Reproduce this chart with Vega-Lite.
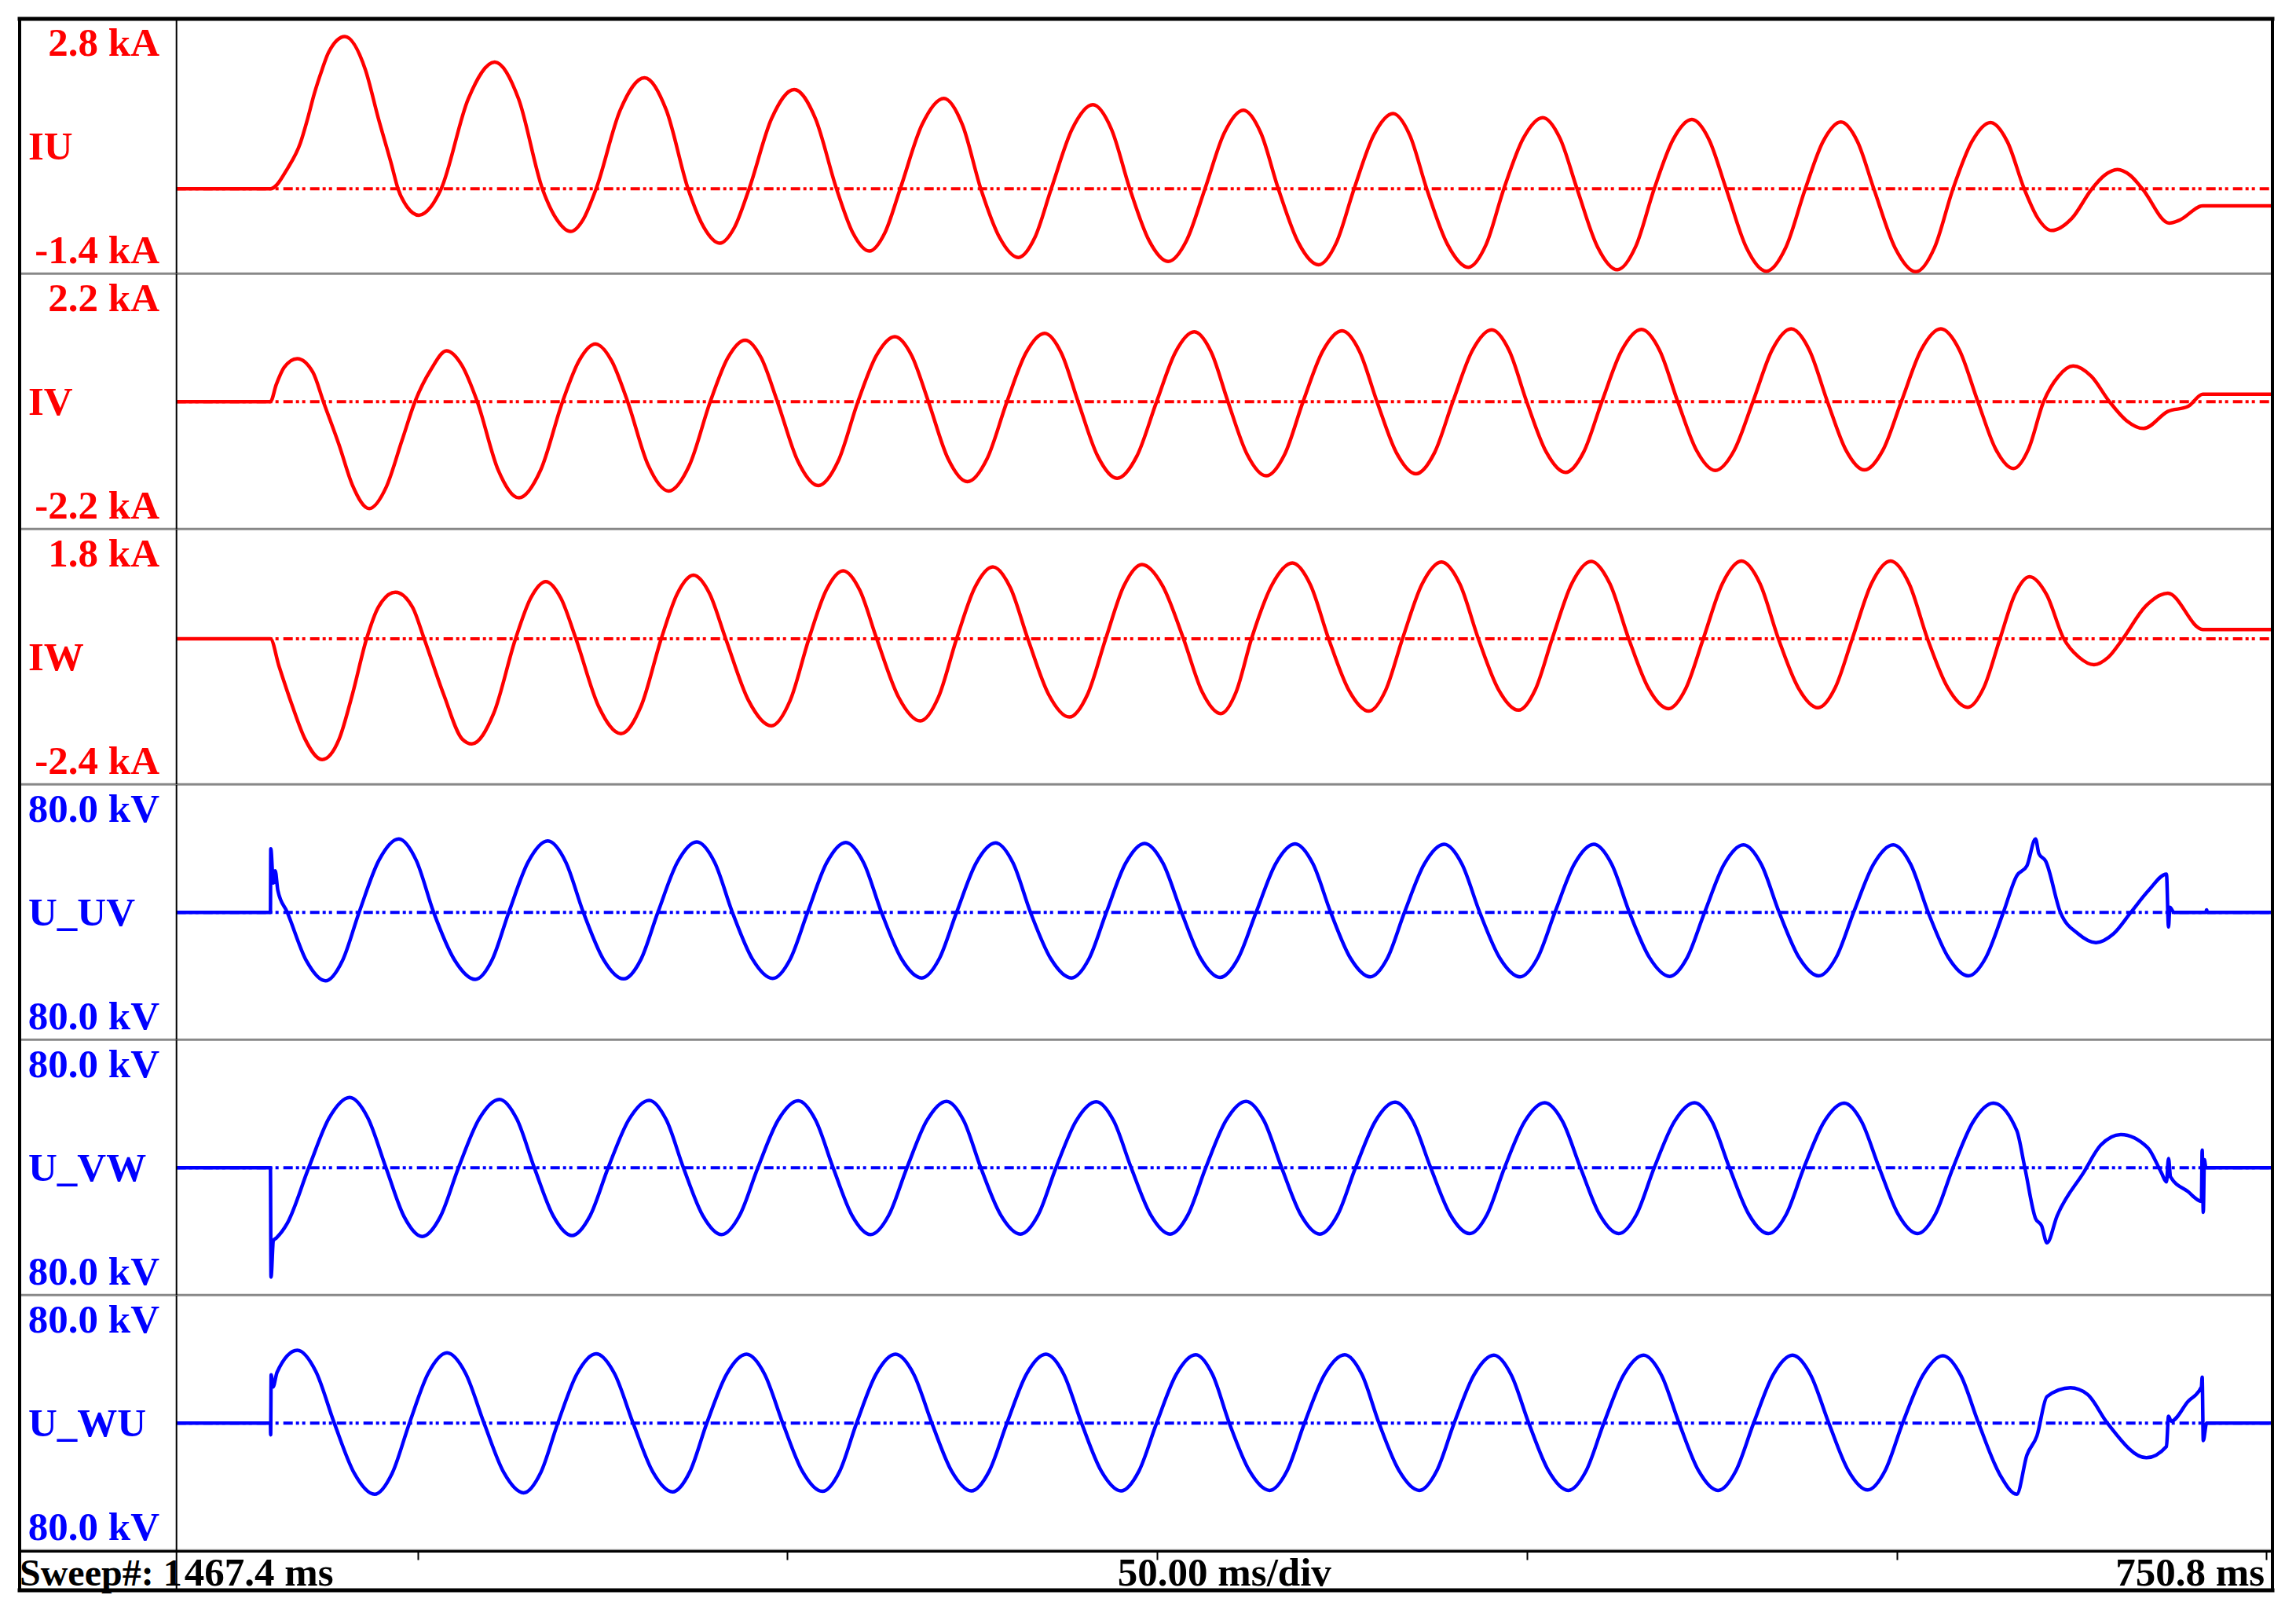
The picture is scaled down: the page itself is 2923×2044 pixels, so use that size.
{
  "$schema": "https://vega.github.io/schema/vega-lite/v6.json",
  "padding": {"left": 21, "top": 20, "right": 0, "bottom": 0},
  "background": "white",
  "config": {
    "view": {"stroke": null},
    "text": {"font": "Liberation Serif", "fontWeight": "bold", "fontSize": 51}
  },
  "datasets": {
    "w": [
      {"s":"IU","r":"top","lab":"2.8 kA","v":2.8},
      {"s":"IU","r":"name","lab":"IU","v":0.7},
      {"s":"IU","r":"bot","lab":"-1.4 kA","v":-1.4},
      {"s":"IV","r":"top","lab":"2.2 kA","v":2.2},
      {"s":"IV","r":"name","lab":"IV","v":0},
      {"s":"IV","r":"bot","lab":"-2.2 kA","v":-2.2},
      {"s":"IW","r":"top","lab":"1.8 kA","v":1.8},
      {"s":"IW","r":"name","lab":"IW","v":-0.3},
      {"s":"IW","r":"bot","lab":"-2.4 kA","v":-2.4},
      {"s":"U_UV","r":"top","lab":"80.0 kV","v":80},
      {"s":"U_UV","r":"name","lab":"U_UV","v":0},
      {"s":"U_UV","r":"bot","lab":"80.0 kV","v":-80},
      {"s":"U_VW","r":"top","lab":"80.0 kV","v":80},
      {"s":"U_VW","r":"name","lab":"U_VW","v":0},
      {"s":"U_VW","r":"bot","lab":"80.0 kV","v":-80},
      {"s":"U_WU","r":"top","lab":"80.0 kV","v":80},
      {"s":"U_WU","r":"name","lab":"U_WU","v":0},
      {"s":"U_WU","r":"bot","lab":"80.0 kV","v":-80},

      {"s":"IU","t":467.4,"v":0},{"s":"IU","t":480.1,"v":0},{"s":"IU","t":482.48,"v":0.348},{"s":"IU","t":484.15,"v":0.753},
      {"s":"IU","t":485.14,"v":1.157},{"s":"IU","t":486.02,"v":1.562},{"s":"IU","t":487.09,"v":1.966},{"s":"IU","t":487.97,"v":2.25},
      {"s":"IU","t":490.17,"v":2.509},{"s":"IU","t":492.93,"v":1.966},{"s":"IU","t":494.7,"v":1.157},{"s":"IU","t":496.47,"v":0.4},
      {"s":"IU","t":497.35,"v":0},{"s":"IU","t":498.59,"v":-0.3},{"s":"IU","t":500.18,"v":-0.437},{"s":"IU","t":501.78,"v":-0.3},
      {"s":"IU","t":503.19,"v":0},{"s":"IU","t":506.85,"v":1.482},{"s":"IU","t":510.43,"v":2.088},
      {"s":"IU","t":513.65,"v":1.482},{"s":"IU","t":516.87,"v":0},{"s":"IU","t":518.78,"v":-0.5},{"s":"IU","t":520.69,"v":-0.704},
      {"s":"IU","t":522.42,"v":-0.5},{"s":"IU","t":524.14,"v":0},{"s":"IU","t":527.41,"v":1.299},{"s":"IU","t":530.67,"v":1.829},
      {"s":"IU","t":533.62,"v":1.299},{"s":"IU","t":536.57,"v":0},{"s":"IU","t":538.71,"v":-0.638},{"s":"IU","t":540.84,"v":-0.898},
      {"s":"IU","t":542.84,"v":-0.638},{"s":"IU","t":544.83,"v":0},{"s":"IU","t":547.88,"v":1.161},{"s":"IU","t":550.92,"v":1.635},
      {"s":"IU","t":553.78,"v":1.161},{"s":"IU","t":556.64,"v":0},{"s":"IU","t":558.86,"v":-0.73},{"s":"IU","t":561.08,"v":-1.028},
      {"s":"IU","t":563.17,"v":-0.73},{"s":"IU","t":565.26,"v":0},{"s":"IU","t":568.21,"v":1.057},{"s":"IU","t":571.16,"v":1.489},
      {"s":"IU","t":573.66,"v":1.057},{"s":"IU","t":576.15,"v":0},{"s":"IU","t":578.69,"v":-0.804},{"s":"IU","t":581.23,"v":-1.133},
      {"s":"IU","t":583.46,"v":-0.804},{"s":"IU","t":585.68,"v":0},{"s":"IU","t":588.5,"v":0.983},{"s":"IU","t":591.31,"v":1.384},
      {"s":"IU","t":593.81,"v":0.983},{"s":"IU","t":596.3,"v":0},{"s":"IU","t":598.89,"v":-0.851},{"s":"IU","t":601.48,"v":-1.198},
      {"s":"IU","t":603.98,"v":-0.851},{"s":"IU","t":606.47,"v":0},{"s":"IU","t":609.07,"v":0.919},{"s":"IU","t":611.66,"v":1.295},
      {"s":"IU","t":614.02,"v":0.919},{"s":"IU","t":616.38,"v":0},{"s":"IU","t":619.1,"v":-0.89},{"s":"IU","t":621.82,"v":-1.254},
      {"s":"IU","t":624.23,"v":-0.89},{"s":"IU","t":626.63,"v":0},{"s":"IU","t":629.27,"v":0.879},{"s":"IU","t":631.9,"v":1.238},
      {"s":"IU","t":634.17,"v":0.879},{"s":"IU","t":636.44,"v":0},{"s":"IU","t":639.26,"v":-0.919},{"s":"IU","t":642.07,"v":-1.295},
      {"s":"IU","t":644.48,"v":-0.919},{"s":"IU","t":646.88,"v":0},{"s":"IU","t":649.51,"v":0.833},{"s":"IU","t":652.14,"v":1.173},
      {"s":"IU","t":654.46,"v":0.833},{"s":"IU","t":656.77,"v":0},{"s":"IU","t":659.5,"v":-0.948},{"s":"IU","t":662.22,"v":-1.335},
      {"s":"IU","t":664.72,"v":-0.948},{"s":"IU","t":667.21,"v":0},{"s":"IU","t":669.76,"v":0.81},{"s":"IU","t":672.3,"v":1.141},
      {"s":"IU","t":674.62,"v":0.81},{"s":"IU","t":676.93,"v":0},{"s":"IU","t":679.65,"v":-0.965},{"s":"IU","t":682.37,"v":-1.359},
      {"s":"IU","t":685.01,"v":-0.965},{"s":"IU","t":687.64,"v":0},{"s":"IU","t":690.05,"v":0.781},{"s":"IU","t":692.45,"v":1.1},
      {"s":"IU","t":694.68,"v":0.781},{"s":"IU","t":696.9,"v":0},{"s":"IU","t":699.76,"v":-0.971},{"s":"IU","t":702.61,"v":-1.368},
      {"s":"IU","t":705.11,"v":-0.971},{"s":"IU","t":707.61,"v":0},{"s":"IU","t":710.15,"v":0.775},{"s":"IU","t":712.69,"v":1.092},
      {"s":"IU","t":714.96,"v":0.775},{"s":"IU","t":717.23,"v":0},{"s":"IU","t":719.09,"v":-0.488},{"s":"IU","t":720.95,"v":-0.688},
      {"s":"IU","t":723.68,"v":-0.488},{"s":"IU","t":726.4,"v":0},{"s":"IU","t":728.13,"v":0.224},{"s":"IU","t":729.85,"v":0.316},
      {"s":"IU","t":731.53,"v":0.224},{"s":"IU","t":733.21,"v":0},{"s":"IU","t":736.84,"v":-0.566},{"s":"IU","t":738.2,"v":-0.52},
      {"s":"IU","t":741.38,"v":-0.283},{"s":"IU","t":750.8,"v":-0.283},

      {"s":"IV","t":467.4,"v":0},{"s":"IV","t":480.1,"v":0},{"s":"IV","t":480.89,"v":0.295},{"s":"IV","t":481.95,"v":0.59},
      {"s":"IV","t":483.72,"v":0.742},{"s":"IV","t":485.85,"v":0.506},{"s":"IV","t":487.26,"v":0},{"s":"IV","t":489.39,"v":-0.75},
      {"s":"IV","t":491.16,"v":-1.433},{"s":"IV","t":493.46,"v":-1.846},{"s":"IV","t":495.76,"v":-1.475},{"s":"IV","t":497.88,"v":-0.674},
      {"s":"IV","t":499.65,"v":0},{"s":"IV","t":501.78,"v":0.548},{"s":"IV","t":503.9,"v":0.877},
      {"s":"IV","t":505.98,"v":0.628},{"s":"IV","t":508.07,"v":0},{"s":"IV","t":510.89,"v":-1.179},{"s":"IV","t":513.7,"v":-1.661},
      {"s":"IV","t":516.65,"v":-1.179},{"s":"IV","t":519.6,"v":0},{"s":"IV","t":521.83,"v":0.706},{"s":"IV","t":524.05,"v":0.995},
      {"s":"IV","t":526.23,"v":0.706},{"s":"IV","t":528.4,"v":0},{"s":"IV","t":531.17,"v":-1.096},{"s":"IV","t":533.94,"v":-1.543},
      {"s":"IV","t":536.76,"v":-1.096},{"s":"IV","t":539.57,"v":0},{"s":"IV","t":541.93,"v":0.754},{"s":"IV","t":544.29,"v":1.062},
      {"s":"IV","t":546.47,"v":0.754},{"s":"IV","t":548.65,"v":0},{"s":"IV","t":551.42,"v":-1.03},{"s":"IV","t":554.18,"v":-1.45},
      {"s":"IV","t":556.86,"v":-1.03},{"s":"IV","t":559.54,"v":0},{"s":"IV","t":562.04,"v":0.796},{"s":"IV","t":564.53,"v":1.121},
      {"s":"IV","t":566.8,"v":0.796},{"s":"IV","t":569.07,"v":0},{"s":"IV","t":571.71,"v":-0.981},{"s":"IV","t":574.34,"v":-1.382},
      {"s":"IV","t":577.02,"v":-0.981},{"s":"IV","t":579.69,"v":0},{"s":"IV","t":582.24,"v":0.838},{"s":"IV","t":584.78,"v":1.18},
      {"s":"IV","t":587.05,"v":0.838},{"s":"IV","t":589.31,"v":0},{"s":"IV","t":591.95,"v":-0.939},{"s":"IV","t":594.58,"v":-1.323},
      {"s":"IV","t":597.26,"v":-0.939},{"s":"IV","t":599.93,"v":0},{"s":"IV","t":602.48,"v":0.856},{"s":"IV","t":605.02,"v":1.205},
      {"s":"IV","t":607.3,"v":0.856},{"s":"IV","t":609.57,"v":0},{"s":"IV","t":612.16,"v":-0.91},{"s":"IV","t":614.74,"v":-1.281},
      {"s":"IV","t":617.24,"v":-0.91},{"s":"IV","t":619.73,"v":0},{"s":"IV","t":622.37,"v":0.868},{"s":"IV","t":625.0,"v":1.222},
      {"s":"IV","t":627.36,"v":0.868},{"s":"IV","t":629.72,"v":0},{"s":"IV","t":632.36,"v":-0.885},{"s":"IV","t":634.99,"v":-1.247},
      {"s":"IV","t":637.49,"v":-0.885},{"s":"IV","t":639.98,"v":0},{"s":"IV","t":642.61,"v":0.88},{"s":"IV","t":645.24,"v":1.239},
      {"s":"IV","t":647.6,"v":0.88},{"s":"IV","t":649.96,"v":0},{"s":"IV","t":652.6,"v":-0.868},{"s":"IV","t":655.23,"v":-1.222},
      {"s":"IV","t":657.68,"v":-0.868},{"s":"IV","t":660.13,"v":0},{"s":"IV","t":662.81,"v":0.885},{"s":"IV","t":665.49,"v":1.247},
      {"s":"IV","t":667.94,"v":0.885},{"s":"IV","t":670.39,"v":0},{"s":"IV","t":672.93,"v":-0.843},{"s":"IV","t":675.47,"v":-1.188},
      {"s":"IV","t":678.02,"v":-0.843},{"s":"IV","t":680.56,"v":0},{"s":"IV","t":683.15,"v":0.892},{"s":"IV","t":685.73,"v":1.256},
      {"s":"IV","t":688.18,"v":0.892},{"s":"IV","t":690.63,"v":0},{"s":"IV","t":693.13,"v":-0.838},{"s":"IV","t":695.63,"v":-1.18},
      {"s":"IV","t":698.13,"v":-0.838},{"s":"IV","t":700.62,"v":0},{"s":"IV","t":703.3,"v":0.892},{"s":"IV","t":705.97,"v":1.256},
      {"s":"IV","t":708.47,"v":0.892},{"s":"IV","t":710.97,"v":0},{"s":"IV","t":713.38,"v":-0.82},{"s":"IV","t":715.78,"v":-1.155},
      {"s":"IV","t":717.82,"v":-0.82},{"s":"IV","t":719.86,"v":0},{"s":"IV","t":721.86,"v":0.437},{"s":"IV","t":723.86,"v":0.615},
      {"s":"IV","t":726.31,"v":0.437},{"s":"IV","t":728.76,"v":0},{"s":"IV","t":731.08,"v":-0.329},{"s":"IV","t":733.39,"v":-0.464},
      {"s":"IV","t":736.66,"v":-0.169},{"s":"IV","t":739.38,"v":-0.084},{"s":"IV","t":741.38,"v":0.126},{"s":"IV","t":750.8,"v":0.126},

      {"s":"IW","t":467.4,"v":0},{"s":"IW","t":480.1,"v":0},{"s":"IW","t":481.24,"v":-0.443},{"s":"IW","t":483.01,"v":-1.088},
      {"s":"IW","t":484.78,"v":-1.653},{"s":"IW","t":487.09,"v":-1.991},{"s":"IW","t":489.39,"v":-1.653},{"s":"IW","t":491.16,"v":-0.927},
      {"s":"IW","t":493.1,"v":0},{"s":"IW","t":494.7,"v":0.524},{"s":"IW","t":497.0,"v":0.766},{"s":"IW","t":499.3,"v":0.524},
      {"s":"IW","t":500.89,"v":0},{"s":"IW","t":503.55,"v":-0.927},{"s":"IW","t":506.03,"v":-1.653},{"s":"IW","t":507.34,"v":-1.733},
      {"s":"IW","t":510.29,"v":-1.23},{"s":"IW","t":513.24,"v":0},{"s":"IW","t":515.29,"v":0.67},{"s":"IW","t":517.33,"v":0.943},
      {"s":"IW","t":519.37,"v":0.67},{"s":"IW","t":521.41,"v":0},{"s":"IW","t":524.46,"v":-1.11},{"s":"IW","t":527.5,"v":-1.564},
      {"s":"IW","t":530.22,"v":-1.11},{"s":"IW","t":532.94,"v":0},{"s":"IW","t":535.12,"v":0.744},{"s":"IW","t":537.3,"v":1.048},
      {"s":"IW","t":539.48,"v":0.744},{"s":"IW","t":541.66,"v":0},{"s":"IW","t":544.75,"v":-1.019},{"s":"IW","t":547.83,"v":-1.435},
      {"s":"IW","t":550.37,"v":-1.019},{"s":"IW","t":552.91,"v":0},{"s":"IW","t":555.23,"v":0.796},{"s":"IW","t":557.54,"v":1.121},
      {"s":"IW","t":559.81,"v":0.796},{"s":"IW","t":562.08,"v":0},{"s":"IW","t":565.03,"v":-0.961},{"s":"IW","t":567.98,"v":-1.354},
      {"s":"IW","t":570.43,"v":-0.961},{"s":"IW","t":572.88,"v":0},{"s":"IW","t":575.33,"v":0.841},{"s":"IW","t":577.78,"v":1.185},
      {"s":"IW","t":580.15,"v":0.841},{"s":"IW","t":582.51,"v":0},{"s":"IW","t":585.32,"v":-0.916},{"s":"IW","t":588.13,"v":-1.29},
      {"s":"IW","t":590.59,"v":-0.916},{"s":"IW","t":593.04,"v":0},{"s":"IW","t":595.49,"v":0.87},{"s":"IW","t":597.94,"v":1.225},
      {"s":"IW","t":600.75,"v":0.87},{"s":"IW","t":603.56,"v":0},{"s":"IW","t":606.08,"v":-0.875},{"s":"IW","t":608.6,"v":-1.233},
      {"s":"IW","t":610.68,"v":-0.875},{"s":"IW","t":612.75,"v":0},{"s":"IW","t":615.52,"v":0.887},{"s":"IW","t":618.28,"v":1.249},
      {"s":"IW","t":620.73,"v":0.887},{"s":"IW","t":623.18,"v":0},{"s":"IW","t":625.91,"v":-0.847},{"s":"IW","t":628.63,"v":-1.193},
      {"s":"IW","t":630.9,"v":-0.847},{"s":"IW","t":633.17,"v":0},{"s":"IW","t":635.81,"v":0.899},{"s":"IW","t":638.44,"v":1.266},
      {"s":"IW","t":640.94,"v":0.899},{"s":"IW","t":643.43,"v":0},{"s":"IW","t":646.15,"v":-0.836},{"s":"IW","t":648.87,"v":-1.177},
      {"s":"IW","t":651.14,"v":-0.836},{"s":"IW","t":653.41,"v":0},{"s":"IW","t":656.05,"v":0.905},{"s":"IW","t":658.68,"v":1.274},
      {"s":"IW","t":661.22,"v":0.905},{"s":"IW","t":663.76,"v":0},{"s":"IW","t":666.44,"v":-0.819},{"s":"IW","t":669.12,"v":-1.153},
      {"s":"IW","t":671.48,"v":-0.819},{"s":"IW","t":673.84,"v":0},{"s":"IW","t":676.43,"v":0.91},{"s":"IW","t":679.01,"v":1.282},
      {"s":"IW","t":681.51,"v":0.91},{"s":"IW","t":684.0,"v":0},{"s":"IW","t":686.68,"v":-0.807},{"s":"IW","t":689.36,"v":-1.137},
      {"s":"IW","t":691.68,"v":-0.807},{"s":"IW","t":693.99,"v":0},{"s":"IW","t":696.58,"v":0.91},{"s":"IW","t":699.17,"v":1.282},
      {"s":"IW","t":701.67,"v":0.91},{"s":"IW","t":704.16,"v":0},{"s":"IW","t":706.88,"v":-0.802},{"s":"IW","t":709.6,"v":-1.129},
      {"s":"IW","t":711.78,"v":-0.802},{"s":"IW","t":713.96,"v":0},{"s":"IW","t":715.96,"v":0.727},{"s":"IW","t":717.95,"v":1.024},
      {"s":"IW","t":720.27,"v":0.727},{"s":"IW","t":722.59,"v":0},{"s":"IW","t":724.63,"v":-0.303},{"s":"IW","t":726.67,"v":-0.427},
      {"s":"IW","t":728.62,"v":-0.303},{"s":"IW","t":730.57,"v":0},{"s":"IW","t":733.62,"v":0.533},{"s":"IW","t":736.66,"v":0.75},
      {"s":"IW","t":741.38,"v":0.153},{"s":"IW","t":750.8,"v":0.153},

      {"s":"U_UV","t":467.4,"v":0},{"s":"U_UV","t":480.1,"v":0},{"s":"U_UV","t":480.15,"v":39.9},{"s":"U_UV","t":480.5,"v":18.4},
      {"s":"U_UV","t":480.75,"v":26.1},{"s":"U_UV","t":481.1,"v":13.8},{"s":"U_UV","t":482.38,"v":0},{"s":"U_UV","t":484.97,"v":-30.5},
      {"s":"U_UV","t":487.55,"v":-43.0},{"s":"U_UV","t":489.82,"v":-30.5},{"s":"U_UV","t":492.09,"v":0},{"s":"U_UV","t":494.77,"v":32.7},
      {"s":"U_UV","t":497.45,"v":46.1},{"s":"U_UV","t":499.81,"v":32.7},{"s":"U_UV","t":502.17,"v":0},{"s":"U_UV","t":504.99,"v":-29.9},
      {"s":"U_UV","t":507.8,"v":-42.1},{"s":"U_UV","t":510.07,"v":-29.9},{"s":"U_UV","t":512.33,"v":0},{"s":"U_UV","t":514.97,"v":31.8},
      {"s":"U_UV","t":517.6,"v":44.8},{"s":"U_UV","t":520.01,"v":31.8},{"s":"U_UV","t":522.41,"v":0},{"s":"U_UV","t":525.14,"v":-29.7},
      {"s":"U_UV","t":527.86,"v":-41.8},{"s":"U_UV","t":530.18,"v":-29.7},{"s":"U_UV","t":532.49,"v":0},{"s":"U_UV","t":535.12,"v":31.4},
      {"s":"U_UV","t":537.75,"v":44.2},{"s":"U_UV","t":540.16,"v":31.4},{"s":"U_UV","t":542.56,"v":0},{"s":"U_UV","t":545.29,"v":-29.5},
      {"s":"U_UV","t":548.01,"v":-41.5},{"s":"U_UV","t":550.37,"v":-29.5},{"s":"U_UV","t":552.73,"v":0},{"s":"U_UV","t":555.32,"v":31.2},
      {"s":"U_UV","t":557.9,"v":43.9},{"s":"U_UV","t":560.31,"v":31.2},{"s":"U_UV","t":562.72,"v":0},{"s":"U_UV","t":565.44,"v":-29.3},
      {"s":"U_UV","t":568.16,"v":-41.2},{"s":"U_UV","t":570.52,"v":-29.3},{"s":"U_UV","t":572.88,"v":0},{"s":"U_UV","t":575.52,"v":31.0},
      {"s":"U_UV","t":578.15,"v":43.6},{"s":"U_UV","t":580.51,"v":31.0},{"s":"U_UV","t":582.87,"v":0},{"s":"U_UV","t":585.64,"v":-29.3},
      {"s":"U_UV","t":588.41,"v":-41.2},{"s":"U_UV","t":590.77,"v":-29.3},{"s":"U_UV","t":593.13,"v":0},{"s":"U_UV","t":595.72,"v":30.7},
      {"s":"U_UV","t":598.3,"v":43.3},{"s":"U_UV","t":600.8,"v":30.7},{"s":"U_UV","t":603.29,"v":0},{"s":"U_UV","t":605.9,"v":-29.0},
      {"s":"U_UV","t":608.5,"v":-40.9},{"s":"U_UV","t":610.94,"v":-29.0},{"s":"U_UV","t":613.38,"v":0},{"s":"U_UV","t":616.02,"v":30.5},
      {"s":"U_UV","t":618.65,"v":43.0},{"s":"U_UV","t":621.06,"v":30.5},{"s":"U_UV","t":623.46,"v":0},{"s":"U_UV","t":626.14,"v":-28.8},
      {"s":"U_UV","t":628.81,"v":-40.5},{"s":"U_UV","t":631.13,"v":-28.8},{"s":"U_UV","t":633.44,"v":0},{"s":"U_UV","t":636.12,"v":30.3},
      {"s":"U_UV","t":638.8,"v":42.7},{"s":"U_UV","t":641.21,"v":30.3},{"s":"U_UV","t":643.61,"v":0},{"s":"U_UV","t":646.34,"v":-28.8},
      {"s":"U_UV","t":649.06,"v":-40.5},{"s":"U_UV","t":651.42,"v":-28.8},{"s":"U_UV","t":653.78,"v":0},{"s":"U_UV","t":656.41,"v":30.3},
      {"s":"U_UV","t":659.04,"v":42.7},{"s":"U_UV","t":661.45,"v":30.3},{"s":"U_UV","t":663.85,"v":0},{"s":"U_UV","t":666.58,"v":-28.5},
      {"s":"U_UV","t":669.3,"v":-40.2},{"s":"U_UV","t":671.66,"v":-28.5},{"s":"U_UV","t":674.02,"v":0},{"s":"U_UV","t":676.65,"v":30.1},
      {"s":"U_UV","t":679.28,"v":42.4},{"s":"U_UV","t":681.69,"v":30.1},{"s":"U_UV","t":684.1,"v":0},{"s":"U_UV","t":686.78,"v":-28.3},
      {"s":"U_UV","t":689.45,"v":-39.9},{"s":"U_UV","t":691.81,"v":-28.3},{"s":"U_UV","t":694.17,"v":0},{"s":"U_UV","t":696.85,"v":30.1},
      {"s":"U_UV","t":699.53,"v":42.4},{"s":"U_UV","t":701.89,"v":30.1},{"s":"U_UV","t":704.25,"v":0},{"s":"U_UV","t":706.97,"v":-28.3},
      {"s":"U_UV","t":709.69,"v":-39.9},{"s":"U_UV","t":712.06,"v":-28.3},{"s":"U_UV","t":714.42,"v":0},{"s":"U_UV","t":716.23,"v":23.0},
      {"s":"U_UV","t":717.6,"v":29.2},{"s":"U_UV","t":718.77,"v":46.1},{"s":"U_UV","t":719.22,"v":36.9},{"s":"U_UV","t":720.13,"v":32.2},
      {"s":"U_UV","t":722.13,"v":0},{"s":"U_UV","t":724.54,"v":-13.5},{"s":"U_UV","t":726.94,"v":-19.0},{"s":"U_UV","t":729.3,"v":-13.5},
      {"s":"U_UV","t":731.66,"v":0},{"s":"U_UV","t":734.1,"v":14.0},{"s":"U_UV","t":736.47,"v":24.0},{"s":"U_UV","t":736.75,"v":-9.2},
      {"s":"U_UV","t":736.93,"v":3.1},{"s":"U_UV","t":737.5,"v":0},{"s":"U_UV","t":741.8,"v":0},{"s":"U_UV","t":741.9,"v":1.5},
      {"s":"U_UV","t":742.0,"v":0},{"s":"U_UV","t":750.8,"v":0},

      {"s":"U_VW","t":467.4,"v":0},{"s":"U_VW","t":480.1,"v":0},{"s":"U_VW","t":480.18,"v":-68.7},{"s":"U_VW","t":480.5,"v":-45.7},
      {"s":"U_VW","t":480.9,"v":-44.1},{"s":"U_VW","t":482.38,"v":-34.9},{"s":"U_VW","t":485.28,"v":0},{"s":"U_VW","t":488.05,"v":31.3},
      {"s":"U_VW","t":490.82,"v":44.1},{"s":"U_VW","t":493.27,"v":31.3},{"s":"U_VW","t":495.72,"v":0},{"s":"U_VW","t":498.17,"v":-30.7},
      {"s":"U_VW","t":500.62,"v":-43.2},{"s":"U_VW","t":503.08,"v":-30.7},{"s":"U_VW","t":505.53,"v":0},{"s":"U_VW","t":508.3,"v":30.5},
      {"s":"U_VW","t":511.06,"v":42.9},{"s":"U_VW","t":513.42,"v":30.5},{"s":"U_VW","t":515.78,"v":0},{"s":"U_VW","t":518.33,"v":-30.2},
      {"s":"U_VW","t":520.87,"v":-42.6},{"s":"U_VW","t":523.32,"v":-30.2},{"s":"U_VW","t":525.77,"v":0},{"s":"U_VW","t":528.54,"v":30.0},
      {"s":"U_VW","t":531.31,"v":42.3},{"s":"U_VW","t":533.63,"v":30.0},{"s":"U_VW","t":535.94,"v":0},{"s":"U_VW","t":538.53,"v":-29.8},
      {"s":"U_VW","t":541.11,"v":-42.0},{"s":"U_VW","t":543.56,"v":-29.8},{"s":"U_VW","t":546.01,"v":0},{"s":"U_VW","t":548.74,"v":29.8},
      {"s":"U_VW","t":551.46,"v":42.0},{"s":"U_VW","t":553.82,"v":29.8},{"s":"U_VW","t":556.18,"v":0},{"s":"U_VW","t":558.72,"v":-29.8},
      {"s":"U_VW","t":561.26,"v":-42.0},{"s":"U_VW","t":563.72,"v":-29.8},{"s":"U_VW","t":566.17,"v":0},{"s":"U_VW","t":568.85,"v":29.6},
      {"s":"U_VW","t":571.52,"v":41.7},{"s":"U_VW","t":573.84,"v":29.6},{"s":"U_VW","t":576.15,"v":0},{"s":"U_VW","t":578.83,"v":-29.6},
      {"s":"U_VW","t":581.51,"v":-41.7},{"s":"U_VW","t":583.92,"v":-29.6},{"s":"U_VW","t":586.32,"v":0},{"s":"U_VW","t":589.04,"v":29.4},
      {"s":"U_VW","t":591.76,"v":41.4},{"s":"U_VW","t":594.12,"v":29.4},{"s":"U_VW","t":596.48,"v":0},{"s":"U_VW","t":599.12,"v":-29.6},
      {"s":"U_VW","t":601.75,"v":-41.7},{"s":"U_VW","t":604.16,"v":-29.6},{"s":"U_VW","t":606.57,"v":0},{"s":"U_VW","t":609.3,"v":29.6},
      {"s":"U_VW","t":612.02,"v":41.7},{"s":"U_VW","t":614.43,"v":29.6},{"s":"U_VW","t":616.83,"v":0},{"s":"U_VW","t":619.42,"v":-29.6},
      {"s":"U_VW","t":622.0,"v":-41.7},{"s":"U_VW","t":624.41,"v":-29.6},{"s":"U_VW","t":626.82,"v":0},{"s":"U_VW","t":629.5,"v":29.2},
      {"s":"U_VW","t":632.17,"v":41.1},{"s":"U_VW","t":634.58,"v":29.2},{"s":"U_VW","t":636.98,"v":0},{"s":"U_VW","t":639.62,"v":-29.4},
      {"s":"U_VW","t":642.25,"v":-41.4},{"s":"U_VW","t":644.61,"v":-29.4},{"s":"U_VW","t":646.97,"v":0},{"s":"U_VW","t":649.69,"v":29.0},
      {"s":"U_VW","t":652.41,"v":40.8},{"s":"U_VW","t":654.82,"v":29.0},{"s":"U_VW","t":657.23,"v":0},{"s":"U_VW","t":659.82,"v":-29.4},
      {"s":"U_VW","t":662.4,"v":-41.4},{"s":"U_VW","t":664.81,"v":-29.4},{"s":"U_VW","t":667.21,"v":0},{"s":"U_VW","t":669.94,"v":29.0},
      {"s":"U_VW","t":672.66,"v":40.8},{"s":"U_VW","t":675.02,"v":29.0},{"s":"U_VW","t":677.38,"v":0},{"s":"U_VW","t":680.01,"v":-29.4},
      {"s":"U_VW","t":682.64,"v":-41.4},{"s":"U_VW","t":685.05,"v":-29.4},{"s":"U_VW","t":687.45,"v":0},{"s":"U_VW","t":690.18,"v":28.8},
      {"s":"U_VW","t":692.9,"v":40.5},{"s":"U_VW","t":695.26,"v":28.8},{"s":"U_VW","t":697.62,"v":0},{"s":"U_VW","t":700.21,"v":-29.4},
      {"s":"U_VW","t":702.79,"v":-41.4},{"s":"U_VW","t":705.2,"v":-29.4},{"s":"U_VW","t":707.61,"v":0},{"s":"U_VW","t":710.33,"v":28.8},
      {"s":"U_VW","t":713.05,"v":40.5},{"s":"U_VW","t":716.23,"v":23.3},{"s":"U_VW","t":717.32,"v":0},{"s":"U_VW","t":718.77,"v":-31.9},
      {"s":"U_VW","t":719.59,"v":-36.5},{"s":"U_VW","t":720.31,"v":-47.2},{"s":"U_VW","t":721.68,"v":-30.3},{"s":"U_VW","t":725.3,"v":-2.8},
      {"s":"U_VW","t":727.57,"v":14.1},{"s":"U_VW","t":730.3,"v":20.8},{"s":"U_VW","t":733.93,"v":12.6},{"s":"U_VW","t":735.75,"v":-2.8},
      {"s":"U_VW","t":736.47,"v":-8.9},{"s":"U_VW","t":736.75,"v":5.8},{"s":"U_VW","t":737.02,"v":-5.8},{"s":"U_VW","t":739.38,"v":-15.0},
      {"s":"U_VW","t":741.2,"v":-21.1},{"s":"U_VW","t":741.3,"v":11.0},{"s":"U_VW","t":741.45,"v":-28.0},{"s":"U_VW","t":741.6,"v":5.0},
      {"s":"U_VW","t":741.8,"v":0},{"s":"U_VW","t":750.8,"v":0},

      {"s":"U_WU","t":467.4,"v":0},{"s":"U_WU","t":480.1,"v":0},{"s":"U_WU","t":480.13,"v":-7.4},{"s":"U_WU","t":480.2,"v":30.3},
      {"s":"U_WU","t":480.45,"v":22.7},{"s":"U_WU","t":481.0,"v":31.9},{"s":"U_WU","t":483.74,"v":45.7},{"s":"U_WU","t":486.24,"v":32.4},
      {"s":"U_WU","t":488.73,"v":0},{"s":"U_WU","t":491.46,"v":-31.7},{"s":"U_WU","t":494.18,"v":-44.7},{"s":"U_WU","t":496.54,"v":-31.7},
      {"s":"U_WU","t":498.9,"v":0},{"s":"U_WU","t":501.44,"v":31.3},{"s":"U_WU","t":503.98,"v":44.1},{"s":"U_WU","t":506.48,"v":31.3},
      {"s":"U_WU","t":508.98,"v":0},{"s":"U_WU","t":511.66,"v":-31.1},{"s":"U_WU","t":514.33,"v":-43.8},{"s":"U_WU","t":516.65,"v":-31.1},
      {"s":"U_WU","t":518.96,"v":0},{"s":"U_WU","t":521.55,"v":30.9},{"s":"U_WU","t":524.14,"v":43.5},{"s":"U_WU","t":526.64,"v":30.9},
      {"s":"U_WU","t":529.13,"v":0},{"s":"U_WU","t":531.81,"v":-30.7},{"s":"U_WU","t":534.48,"v":-43.2},{"s":"U_WU","t":536.8,"v":-30.7},
      {"s":"U_WU","t":539.11,"v":0},{"s":"U_WU","t":541.79,"v":30.7},{"s":"U_WU","t":544.47,"v":43.2},{"s":"U_WU","t":546.92,"v":30.7},
      {"s":"U_WU","t":549.37,"v":0},{"s":"U_WU","t":552.05,"v":-30.5},{"s":"U_WU","t":554.73,"v":-42.9},{"s":"U_WU","t":557.05,"v":-30.5},
      {"s":"U_WU","t":559.36,"v":0},{"s":"U_WU","t":561.99,"v":30.7},{"s":"U_WU","t":564.62,"v":43.2},{"s":"U_WU","t":567.08,"v":30.7},
      {"s":"U_WU","t":569.53,"v":0},{"s":"U_WU","t":572.21,"v":-30.2},{"s":"U_WU","t":574.88,"v":-42.6},{"s":"U_WU","t":577.29,"v":-30.2},
      {"s":"U_WU","t":579.69,"v":0},{"s":"U_WU","t":582.33,"v":30.7},{"s":"U_WU","t":584.96,"v":43.2},{"s":"U_WU","t":587.37,"v":30.7},
      {"s":"U_WU","t":589.77,"v":0},{"s":"U_WU","t":592.45,"v":-30.2},{"s":"U_WU","t":595.12,"v":-42.6},{"s":"U_WU","t":597.53,"v":-30.2},
      {"s":"U_WU","t":599.93,"v":0},{"s":"U_WU","t":602.57,"v":30.5},{"s":"U_WU","t":605.2,"v":42.9},{"s":"U_WU","t":607.48,"v":30.5},
      {"s":"U_WU","t":609.75,"v":0},{"s":"U_WU","t":612.48,"v":-30.0},{"s":"U_WU","t":615.2,"v":-42.3},{"s":"U_WU","t":617.56,"v":-30.0},
      {"s":"U_WU","t":619.92,"v":0},{"s":"U_WU","t":622.64,"v":30.5},{"s":"U_WU","t":625.36,"v":42.9},{"s":"U_WU","t":627.68,"v":30.5},
      {"s":"U_WU","t":629.99,"v":0},{"s":"U_WU","t":632.72,"v":-30.0},{"s":"U_WU","t":635.44,"v":-42.3},{"s":"U_WU","t":637.8,"v":-30.0},
      {"s":"U_WU","t":640.16,"v":0},{"s":"U_WU","t":642.84,"v":30.2},{"s":"U_WU","t":645.52,"v":42.6},{"s":"U_WU","t":647.88,"v":30.2},
      {"s":"U_WU","t":650.24,"v":0},{"s":"U_WU","t":652.92,"v":-30.0},{"s":"U_WU","t":655.59,"v":-42.3},{"s":"U_WU","t":658.0,"v":-30.0},
      {"s":"U_WU","t":660.4,"v":0},{"s":"U_WU","t":663.08,"v":30.2},{"s":"U_WU","t":665.76,"v":42.6},{"s":"U_WU","t":668.17,"v":30.2},
      {"s":"U_WU","t":670.57,"v":0},{"s":"U_WU","t":673.21,"v":-30.0},{"s":"U_WU","t":675.84,"v":-42.3},{"s":"U_WU","t":678.25,"v":-30.0},
      {"s":"U_WU","t":680.65,"v":0},{"s":"U_WU","t":683.28,"v":30.2},{"s":"U_WU","t":685.91,"v":42.6},{"s":"U_WU","t":688.36,"v":30.2},
      {"s":"U_WU","t":690.81,"v":0},{"s":"U_WU","t":693.45,"v":-29.8},{"s":"U_WU","t":696.08,"v":-42.0},{"s":"U_WU","t":698.44,"v":-29.8},
      {"s":"U_WU","t":700.8,"v":0},{"s":"U_WU","t":703.53,"v":30.0},{"s":"U_WU","t":706.25,"v":42.3},{"s":"U_WU","t":708.66,"v":30.0},
      {"s":"U_WU","t":711.06,"v":0},{"s":"U_WU","t":713.96,"v":-32.5},{"s":"U_WU","t":716.23,"v":-44.7},{"s":"U_WU","t":717.6,"v":-20.2},
      {"s":"U_WU","t":718.96,"v":-8.0},{"s":"U_WU","t":720.31,"v":16.6},{"s":"U_WU","t":723.49,"v":22.1},{"s":"U_WU","t":725.77,"v":18.1},
      {"s":"U_WU","t":728.48,"v":0},{"s":"U_WU","t":733.75,"v":-21.8},{"s":"U_WU","t":736.47,"v":-14.7},{"s":"U_WU","t":736.75,"v":4.3},
      {"s":"U_WU","t":737.1,"v":1.2},{"s":"U_WU","t":739.38,"v":13.5},{"s":"U_WU","t":741.2,"v":22.7},{"s":"U_WU","t":741.3,"v":28.8},
      {"s":"U_WU","t":741.45,"v":-11.0},{"s":"U_WU","t":741.9,"v":0},{"s":"U_WU","t":750.8,"v":0}
    ]
  },
  "data": {"name": "w"},
  "spacing": 0,
  "bounds": "flush",
  "resolve": {"scale": {"x": "independent", "y": "independent"}},
  "vconcat": [
    {
      "width": 2868, "height": 324.3,
      "transform": [{"filter": "datum.s == 'IU'"}],
      "layer": [
        {"transform": [{"filter": "datum.r == 'bot'"}], "mark": {"type": "rule", "color": "#888888", "strokeWidth": 3},
         "encoding": {"y": {"field": "v", "type": "quantitative", "scale": {"zero": false, "nice": false}, "axis": null}}},
        {"transform": [{"filter": "datum.r == 'name'"}], "mark": {"type": "rule", "color": "#ff0000", "strokeWidth": 4, "strokeDash": [12, 4, 4, 4, 4, 6]},
         "encoding": {"x": {"datum": 467.4, "type": "quantitative", "scale": {"domain": [446.19, 750.8], "nice": false, "zero": false}, "axis": null}, "x2": {"datum": 750.8}, "y": {"datum": 0, "type": "quantitative"}}},
        {"transform": [{"filter": "!datum.r"}], "mark": {"type": "line", "color": "#ff0000", "interpolate": "monotone", "strokeWidth": 4.5},
         "encoding": {"x": {"field": "t", "type": "quantitative"}, "y": {"field": "v", "type": "quantitative", "scale": {"zero": false, "nice": false}}}},
        {"transform": [{"filter": "datum.r == 'name'"}], "mark": {"type": "rule", "color": "#000000", "strokeWidth": 2}, "encoding": {"x": {"datum": 467.4, "type": "quantitative"}}},
        {"transform": [{"filter": "datum.r == 'name'"}], "mark": {"type": "rule", "color": "#000000", "strokeWidth": 4, "strokeCap": "square"}, "encoding": {"x": {"datum": 446.19, "type": "quantitative"}}},
        {"transform": [{"filter": "datum.r == 'name'"}], "mark": {"type": "rule", "color": "#000000", "strokeWidth": 4, "strokeCap": "square"}, "encoding": {"x": {"datum": 750.8, "type": "quantitative"}}},
        {"transform": [{"filter": "datum.r == 'top'"}], "mark": {"type": "rule", "color": "#000000", "strokeWidth": 5, "strokeCap": "square"}, "encoding": {"y": {"field": "v", "type": "quantitative"}}},
        {"transform": [{"filter": "datum.r == 'top'"}], "mark": {"type": "text", "color": "#ff0000", "align": "right", "baseline": "alphabetic", "dy": 47},
         "encoding": {"x": {"datum": 465.1, "type": "quantitative"}, "y": {"field": "v", "type": "quantitative"}, "text": {"field": "lab"}}},
        {"transform": [{"filter": "datum.r == 'bot'"}], "mark": {"type": "text", "color": "#ff0000", "align": "right", "baseline": "alphabetic", "dy": -13},
         "encoding": {"x": {"datum": 465.1, "type": "quantitative"}, "y": {"field": "v", "type": "quantitative"}, "text": {"field": "lab"}}},
        {"transform": [{"filter": "datum.r == 'name'"}], "mark": {"type": "text", "color": "#ff0000", "align": "left", "baseline": "alphabetic", "dy": 17},
         "encoding": {"x": {"datum": 447.36, "type": "quantitative"}, "y": {"field": "v", "type": "quantitative"}, "text": {"field": "lab"}}}
      ]
    },
    {
      "width": 2868, "height": 324.3,
      "transform": [{"filter": "datum.s == 'IV'"}],
      "layer": [
        {"transform": [{"filter": "datum.r == 'bot'"}], "mark": {"type": "rule", "color": "#888888", "strokeWidth": 3},
         "encoding": {"y": {"field": "v", "type": "quantitative", "scale": {"zero": false, "nice": false}, "axis": null}}},
        {"transform": [{"filter": "datum.r == 'name'"}], "mark": {"type": "rule", "color": "#ff0000", "strokeWidth": 4, "strokeDash": [12, 4, 4, 4, 4, 6]},
         "encoding": {"x": {"datum": 467.4, "type": "quantitative", "scale": {"domain": [446.19, 750.8], "nice": false, "zero": false}, "axis": null}, "x2": {"datum": 750.8}, "y": {"datum": 0, "type": "quantitative"}}},
        {"transform": [{"filter": "!datum.r"}], "mark": {"type": "line", "color": "#ff0000", "interpolate": "monotone", "strokeWidth": 4.5},
         "encoding": {"x": {"field": "t", "type": "quantitative"}, "y": {"field": "v", "type": "quantitative", "scale": {"zero": false, "nice": false}}}},
        {"transform": [{"filter": "datum.r == 'name'"}], "mark": {"type": "rule", "color": "#000000", "strokeWidth": 2}, "encoding": {"x": {"datum": 467.4, "type": "quantitative"}}},
        {"transform": [{"filter": "datum.r == 'name'"}], "mark": {"type": "rule", "color": "#000000", "strokeWidth": 4, "strokeCap": "square"}, "encoding": {"x": {"datum": 446.19, "type": "quantitative"}}},
        {"transform": [{"filter": "datum.r == 'name'"}], "mark": {"type": "rule", "color": "#000000", "strokeWidth": 4, "strokeCap": "square"}, "encoding": {"x": {"datum": 750.8, "type": "quantitative"}}},
        {"transform": [{"filter": "datum.r == 'top'"}], "mark": {"type": "text", "color": "#ff0000", "align": "right", "baseline": "alphabetic", "dy": 47},
         "encoding": {"x": {"datum": 465.1, "type": "quantitative"}, "y": {"field": "v", "type": "quantitative"}, "text": {"field": "lab"}}},
        {"transform": [{"filter": "datum.r == 'bot'"}], "mark": {"type": "text", "color": "#ff0000", "align": "right", "baseline": "alphabetic", "dy": -13},
         "encoding": {"x": {"datum": 465.1, "type": "quantitative"}, "y": {"field": "v", "type": "quantitative"}, "text": {"field": "lab"}}},
        {"transform": [{"filter": "datum.r == 'name'"}], "mark": {"type": "text", "color": "#ff0000", "align": "left", "baseline": "alphabetic", "dy": 17},
         "encoding": {"x": {"datum": 447.36, "type": "quantitative"}, "y": {"field": "v", "type": "quantitative"}, "text": {"field": "lab"}}}
      ]
    },
    {
      "width": 2868, "height": 324.3,
      "transform": [{"filter": "datum.s == 'IW'"}],
      "layer": [
        {"transform": [{"filter": "datum.r == 'bot'"}], "mark": {"type": "rule", "color": "#888888", "strokeWidth": 3},
         "encoding": {"y": {"field": "v", "type": "quantitative", "scale": {"zero": false, "nice": false}, "axis": null}}},
        {"transform": [{"filter": "datum.r == 'name'"}], "mark": {"type": "rule", "color": "#ff0000", "strokeWidth": 4, "strokeDash": [12, 4, 4, 4, 4, 6]},
         "encoding": {"x": {"datum": 467.4, "type": "quantitative", "scale": {"domain": [446.19, 750.8], "nice": false, "zero": false}, "axis": null}, "x2": {"datum": 750.8}, "y": {"datum": 0, "type": "quantitative"}}},
        {"transform": [{"filter": "!datum.r"}], "mark": {"type": "line", "color": "#ff0000", "interpolate": "monotone", "strokeWidth": 4.5},
         "encoding": {"x": {"field": "t", "type": "quantitative"}, "y": {"field": "v", "type": "quantitative", "scale": {"zero": false, "nice": false}}}},
        {"transform": [{"filter": "datum.r == 'name'"}], "mark": {"type": "rule", "color": "#000000", "strokeWidth": 2}, "encoding": {"x": {"datum": 467.4, "type": "quantitative"}}},
        {"transform": [{"filter": "datum.r == 'name'"}], "mark": {"type": "rule", "color": "#000000", "strokeWidth": 4, "strokeCap": "square"}, "encoding": {"x": {"datum": 446.19, "type": "quantitative"}}},
        {"transform": [{"filter": "datum.r == 'name'"}], "mark": {"type": "rule", "color": "#000000", "strokeWidth": 4, "strokeCap": "square"}, "encoding": {"x": {"datum": 750.8, "type": "quantitative"}}},
        {"transform": [{"filter": "datum.r == 'top'"}], "mark": {"type": "text", "color": "#ff0000", "align": "right", "baseline": "alphabetic", "dy": 47},
         "encoding": {"x": {"datum": 465.1, "type": "quantitative"}, "y": {"field": "v", "type": "quantitative"}, "text": {"field": "lab"}}},
        {"transform": [{"filter": "datum.r == 'bot'"}], "mark": {"type": "text", "color": "#ff0000", "align": "right", "baseline": "alphabetic", "dy": -13},
         "encoding": {"x": {"datum": 465.1, "type": "quantitative"}, "y": {"field": "v", "type": "quantitative"}, "text": {"field": "lab"}}},
        {"transform": [{"filter": "datum.r == 'name'"}], "mark": {"type": "text", "color": "#ff0000", "align": "left", "baseline": "alphabetic", "dy": 17},
         "encoding": {"x": {"datum": 447.36, "type": "quantitative"}, "y": {"field": "v", "type": "quantitative"}, "text": {"field": "lab"}}}
      ]
    },
    {
      "width": 2868, "height": 324.3,
      "transform": [{"filter": "datum.s == 'U_UV'"}],
      "layer": [
        {"transform": [{"filter": "datum.r == 'bot'"}], "mark": {"type": "rule", "color": "#888888", "strokeWidth": 3},
         "encoding": {"y": {"field": "v", "type": "quantitative", "scale": {"zero": false, "nice": false}, "axis": null}}},
        {"transform": [{"filter": "datum.r == 'name'"}], "mark": {"type": "rule", "color": "#0000ff", "strokeWidth": 4, "strokeDash": [12, 4, 4, 4, 4, 6]},
         "encoding": {"x": {"datum": 467.4, "type": "quantitative", "scale": {"domain": [446.19, 750.8], "nice": false, "zero": false}, "axis": null}, "x2": {"datum": 750.8}, "y": {"datum": 0, "type": "quantitative"}}},
        {"transform": [{"filter": "!datum.r"}], "mark": {"type": "line", "color": "#0000ff", "interpolate": "monotone", "strokeWidth": 4.5},
         "encoding": {"x": {"field": "t", "type": "quantitative"}, "y": {"field": "v", "type": "quantitative", "scale": {"zero": false, "nice": false}}}},
        {"transform": [{"filter": "datum.r == 'name'"}], "mark": {"type": "rule", "color": "#000000", "strokeWidth": 2}, "encoding": {"x": {"datum": 467.4, "type": "quantitative"}}},
        {"transform": [{"filter": "datum.r == 'name'"}], "mark": {"type": "rule", "color": "#000000", "strokeWidth": 4, "strokeCap": "square"}, "encoding": {"x": {"datum": 446.19, "type": "quantitative"}}},
        {"transform": [{"filter": "datum.r == 'name'"}], "mark": {"type": "rule", "color": "#000000", "strokeWidth": 4, "strokeCap": "square"}, "encoding": {"x": {"datum": 750.8, "type": "quantitative"}}},
        {"transform": [{"filter": "datum.r == 'top'"}], "mark": {"type": "text", "color": "#0000ff", "align": "right", "baseline": "alphabetic", "dy": 47},
         "encoding": {"x": {"datum": 465.1, "type": "quantitative"}, "y": {"field": "v", "type": "quantitative"}, "text": {"field": "lab"}}},
        {"transform": [{"filter": "datum.r == 'bot'"}], "mark": {"type": "text", "color": "#0000ff", "align": "right", "baseline": "alphabetic", "dy": -13},
         "encoding": {"x": {"datum": 465.1, "type": "quantitative"}, "y": {"field": "v", "type": "quantitative"}, "text": {"field": "lab"}}},
        {"transform": [{"filter": "datum.r == 'name'"}], "mark": {"type": "text", "color": "#0000ff", "align": "left", "baseline": "alphabetic", "dy": 17},
         "encoding": {"x": {"datum": 447.36, "type": "quantitative"}, "y": {"field": "v", "type": "quantitative"}, "text": {"field": "lab"}}}
      ]
    },
    {
      "width": 2868, "height": 324.3,
      "transform": [{"filter": "datum.s == 'U_VW'"}],
      "layer": [
        {"transform": [{"filter": "datum.r == 'bot'"}], "mark": {"type": "rule", "color": "#888888", "strokeWidth": 3},
         "encoding": {"y": {"field": "v", "type": "quantitative", "scale": {"zero": false, "nice": false}, "axis": null}}},
        {"transform": [{"filter": "datum.r == 'name'"}], "mark": {"type": "rule", "color": "#0000ff", "strokeWidth": 4, "strokeDash": [12, 4, 4, 4, 4, 6]},
         "encoding": {"x": {"datum": 467.4, "type": "quantitative", "scale": {"domain": [446.19, 750.8], "nice": false, "zero": false}, "axis": null}, "x2": {"datum": 750.8}, "y": {"datum": 0, "type": "quantitative"}}},
        {"transform": [{"filter": "!datum.r"}], "mark": {"type": "line", "color": "#0000ff", "interpolate": "monotone", "strokeWidth": 4.5},
         "encoding": {"x": {"field": "t", "type": "quantitative"}, "y": {"field": "v", "type": "quantitative", "scale": {"zero": false, "nice": false}}}},
        {"transform": [{"filter": "datum.r == 'name'"}], "mark": {"type": "rule", "color": "#000000", "strokeWidth": 2}, "encoding": {"x": {"datum": 467.4, "type": "quantitative"}}},
        {"transform": [{"filter": "datum.r == 'name'"}], "mark": {"type": "rule", "color": "#000000", "strokeWidth": 4, "strokeCap": "square"}, "encoding": {"x": {"datum": 446.19, "type": "quantitative"}}},
        {"transform": [{"filter": "datum.r == 'name'"}], "mark": {"type": "rule", "color": "#000000", "strokeWidth": 4, "strokeCap": "square"}, "encoding": {"x": {"datum": 750.8, "type": "quantitative"}}},
        {"transform": [{"filter": "datum.r == 'top'"}], "mark": {"type": "text", "color": "#0000ff", "align": "right", "baseline": "alphabetic", "dy": 47},
         "encoding": {"x": {"datum": 465.1, "type": "quantitative"}, "y": {"field": "v", "type": "quantitative"}, "text": {"field": "lab"}}},
        {"transform": [{"filter": "datum.r == 'bot'"}], "mark": {"type": "text", "color": "#0000ff", "align": "right", "baseline": "alphabetic", "dy": -13},
         "encoding": {"x": {"datum": 465.1, "type": "quantitative"}, "y": {"field": "v", "type": "quantitative"}, "text": {"field": "lab"}}},
        {"transform": [{"filter": "datum.r == 'name'"}], "mark": {"type": "text", "color": "#0000ff", "align": "left", "baseline": "alphabetic", "dy": 17},
         "encoding": {"x": {"datum": 447.36, "type": "quantitative"}, "y": {"field": "v", "type": "quantitative"}, "text": {"field": "lab"}}}
      ]
    },
    {
      "width": 2868, "height": 324.3,
      "transform": [{"filter": "datum.s == 'U_WU'"}],
      "layer": [
        {"transform": [{"filter": "datum.r == 'bot'"}], "mark": {"type": "rule", "color": "#888888", "strokeWidth": 3},
         "encoding": {"y": {"field": "v", "type": "quantitative", "scale": {"zero": false, "nice": false}, "axis": null}}},
        {"transform": [{"filter": "datum.r == 'name'"}], "mark": {"type": "rule", "color": "#0000ff", "strokeWidth": 4, "strokeDash": [12, 4, 4, 4, 4, 6]},
         "encoding": {"x": {"datum": 467.4, "type": "quantitative", "scale": {"domain": [446.19, 750.8], "nice": false, "zero": false}, "axis": null}, "x2": {"datum": 750.8}, "y": {"datum": 0, "type": "quantitative"}}},
        {"transform": [{"filter": "!datum.r"}], "mark": {"type": "line", "color": "#0000ff", "interpolate": "monotone", "strokeWidth": 4.5},
         "encoding": {"x": {"field": "t", "type": "quantitative"}, "y": {"field": "v", "type": "quantitative", "scale": {"zero": false, "nice": false}}}},
        {"transform": [{"filter": "datum.r == 'name'"}], "mark": {"type": "rule", "color": "#000000", "strokeWidth": 2}, "encoding": {"x": {"datum": 467.4, "type": "quantitative"}}},
        {"transform": [{"filter": "datum.r == 'name'"}], "mark": {"type": "rule", "color": "#000000", "strokeWidth": 4, "strokeCap": "square"}, "encoding": {"x": {"datum": 446.19, "type": "quantitative"}}},
        {"transform": [{"filter": "datum.r == 'name'"}], "mark": {"type": "rule", "color": "#000000", "strokeWidth": 4, "strokeCap": "square"}, "encoding": {"x": {"datum": 750.8, "type": "quantitative"}}},
        {"transform": [{"filter": "datum.r == 'top'"}], "mark": {"type": "text", "color": "#0000ff", "align": "right", "baseline": "alphabetic", "dy": 47},
         "encoding": {"x": {"datum": 465.1, "type": "quantitative"}, "y": {"field": "v", "type": "quantitative"}, "text": {"field": "lab"}}},
        {"transform": [{"filter": "datum.r == 'bot'"}], "mark": {"type": "text", "color": "#0000ff", "align": "right", "baseline": "alphabetic", "dy": -13},
         "encoding": {"x": {"datum": 465.1, "type": "quantitative"}, "y": {"field": "v", "type": "quantitative"}, "text": {"field": "lab"}}},
        {"transform": [{"filter": "datum.r == 'name'"}], "mark": {"type": "text", "color": "#0000ff", "align": "left", "baseline": "alphabetic", "dy": 17},
         "encoding": {"x": {"datum": 447.36, "type": "quantitative"}, "y": {"field": "v", "type": "quantitative"}, "text": {"field": "lab"}}}
      ]
    },
    {
      "width": 2868, "height": 50,
      "layer": [
        {"data": {"values": [{"k": 1}]}, "mark": {"type": "rule", "color": "#000000", "strokeWidth": 5, "strokeCap": "square"},
         "encoding": {"y": {"datum": 0, "type": "quantitative", "scale": {"domain": [0, 1], "nice": false, "zero": false}, "axis": null}}},
        {"data": {"values": [{"k": 1}]}, "mark": {"type": "rule", "color": "#000000", "strokeWidth": 4, "strokeCap": "square"},
         "encoding": {"x": {"datum": 446.19, "type": "quantitative", "scale": {"domain": [446.19, 750.8], "nice": false, "zero": false}}}},
        {"data": {"values": [{"k": 1}]}, "mark": {"type": "rule", "color": "#000000", "strokeWidth": 4, "strokeCap": "square"},
         "encoding": {"x": {"datum": 750.8, "type": "quantitative"}}},
        {"data": {"values": [{"k": 1}]}, "mark": {"type": "rule", "color": "#000000", "strokeWidth": 2},
         "encoding": {"x": {"datum": 467.4, "type": "quantitative"}}},
        {"data": {"values": [{"lab": "50.00 ms/div", "t": 609.1}]},
         "mark": {"type": "text", "align": "center", "baseline": "alphabetic", "dy": -6, "color": "#000000"},
         "encoding": {
           "x": {"field": "t", "type": "quantitative",
                 "axis": {"orient": "top", "values": [500, 550, 600, 650, 700, 750], "labels": false, "title": null, "grid": false, "ticks": true, "tickSize": -11, "tickWidth": 2, "tickColor": "#000000", "domain": true, "domainColor": "#000000", "domainWidth": 3}},
           "y": {"datum": 0, "type": "quantitative"},
           "text": {"field": "lab"}}},
        {"data": {"values": [{"lab": "467.4 ms", "t": 467.4}]},
         "mark": {"type": "text", "align": "left", "baseline": "alphabetic", "dy": -6, "dx": 10, "color": "#000000"},
         "encoding": {"x": {"field": "t", "type": "quantitative"}, "y": {"datum": 0, "type": "quantitative"}, "text": {"field": "lab"}}},
        {"data": {"values": [{"lab": "750.8 ms", "t": 750.8}]},
         "mark": {"type": "text", "align": "right", "baseline": "alphabetic", "dy": -6, "dx": -10, "color": "#000000"},
         "encoding": {"x": {"field": "t", "type": "quantitative"}, "y": {"datum": 0, "type": "quantitative"}, "text": {"field": "lab"}}},
        {"data": {"values": [{"lab": "Sweep#: 1", "t": 446.19}]},
         "mark": {"type": "text", "align": "left", "baseline": "alphabetic", "dy": -6, "color": "#000000", "fontSize": 48},
         "encoding": {"x": {"field": "t", "type": "quantitative"}, "y": {"datum": 0, "type": "quantitative"}, "text": {"field": "lab"}}}
      ]
    }
  ]
}
